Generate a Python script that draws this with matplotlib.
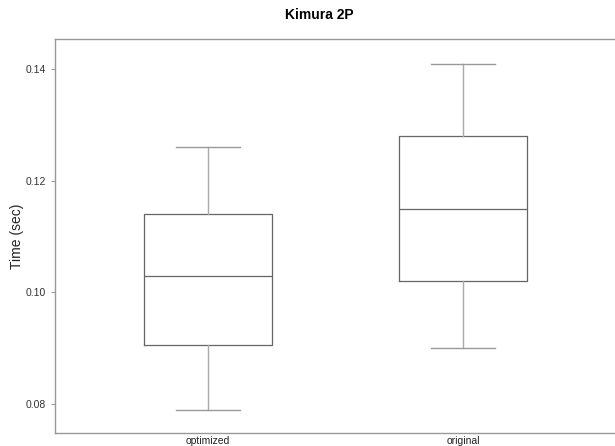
import matplotlib.pyplot as plt

# ── Data ───────────────────────────────────────────────────────────────────
labels = ["optimized", "original"]
whisker_low = [0.079, 0.090]
q1 = [0.0905, 0.102]
medians = [0.103, 0.115]
q3 = [0.114, 0.128]
whisker_high = [0.126, 0.141]

stats = []
for i, name in enumerate(labels):
    stats.append({"label": name, "whislo": whisker_low[i], "q1": q1[i],
                  "med": medians[i], "q3": q3[i], "whishi": whisker_high[i]})

# ── Plot ───────────────────────────────────────────────────────────────────
plt.rcParams["font.family"] = ["Liberation Sans", "DejaVu Sans"]
fig = plt.figure(figsize=(6.15, 4.46), dpi=100)
ax = fig.add_axes([55 / 615, 1 - 433 / 446, 561 / 615, 394 / 446])

ax.bxp(stats, positions=[1, 2], widths=0.5, showfliers=False,
       boxprops=dict(color="#666666", linewidth=0.9),
       medianprops=dict(color="#666666", linewidth=0.9),
       whiskerprops=dict(color="#aaaaaa", linewidth=1.0),
       capprops=dict(color="#999999", linewidth=1.0))

ax.set_xlim(0.4, 2.6)
ax.set_ylim(0.0748, 0.1454)
ax.set_yticks([0.08, 0.10, 0.12, 0.14])
ax.set_yticklabels(["0.08", "0.10", "0.12", "0.14"])

for side in ["left", "bottom", "top"]:
    ax.spines[side].set_color("#999999")
    ax.spines[side].set_linewidth(1.0)
ax.spines["right"].set_visible(False)

ax.tick_params(axis="y", colors="#999999", labelcolor="#333333",
               labelsize=7.5, length=3, width=0.8)
ax.tick_params(axis="x", length=0, labelcolor="#222222", labelsize=7.5, pad=2)

ax.set_ylabel("Time (sec)", fontsize=10, color="#222222", labelpad=1)
fig.text(319 / 615, 1 - 15 / 446, "Kimura 2P", ha="center", va="center",
         fontsize=10, fontweight="bold")

plt.savefig("out.png", dpi=100)
